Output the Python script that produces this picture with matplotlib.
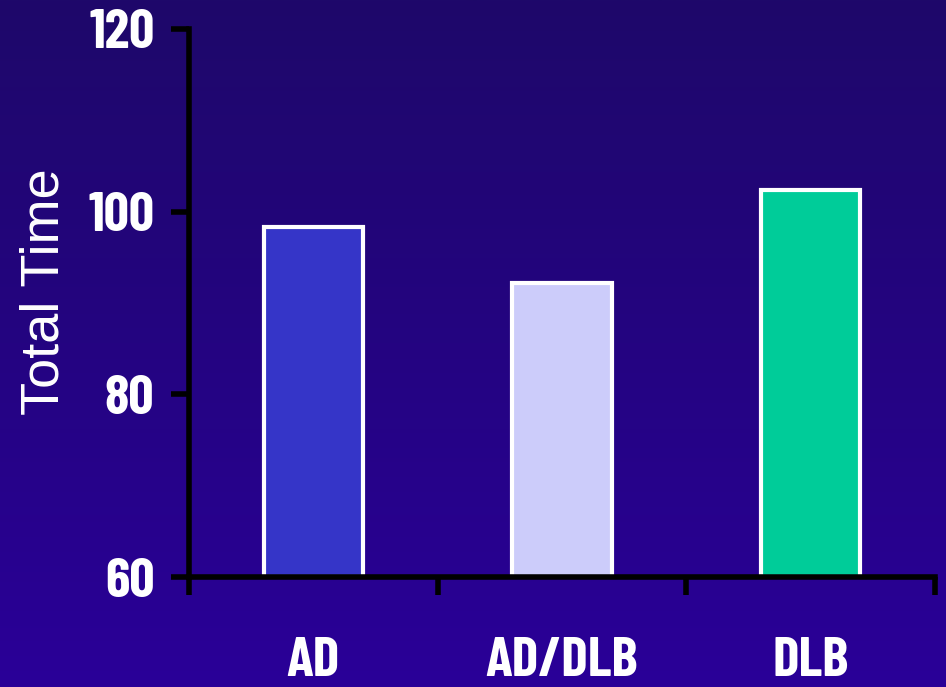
import numpy as np
import matplotlib.pyplot as plt
from matplotlib.colors import LinearSegmentedColormap

# data
groups = ['AD', 'AD/DLB', 'DLB']
total_time = [98.3, 92.2, 102.4]
bar_colors = ['#3535c8', '#ccccfa', '#00cc99']
y_ticks = [60, 80, 100, 120]

narrow = ['Barlow Condensed', 'Liberation Sans', 'DejaVu Sans']

fig = plt.figure(figsize=(9.46, 6.87), dpi=100)

# background gradient, dark at top, brighter blue-purple at bottom
bg = fig.add_axes([0, 0, 1, 1], zorder=-10)
cmap = LinearSegmentedColormap.from_list('bg', ['#1e086a', '#2a0098'])
grad = np.linspace(0, 1, 256).reshape(-1, 1)
bg.imshow(grad, aspect='auto', cmap=cmap, extent=[0, 1, 0, 1], origin='upper')
bg.axis('off')

ax = fig.add_axes([0.1998, 0.160, 0.7886, 0.798])
ax.patch.set_visible(False)

x = np.arange(1, len(groups) + 1)
ax.bar(x, [v - 60 for v in total_time], bottom=60, width=0.4,
       color=bar_colors, edgecolor='white', linewidth=3, zorder=2)

ax.set_xlim(0.5, 3.5)
ax.set_ylim(60, 120)

for side in ['top', 'right']:
    ax.spines[side].set_visible(False)
for side in ['left', 'bottom']:
    ax.spines[side].set_linewidth(4)
    ax.spines[side].set_color('black')
    ax.spines[side].set_zorder(3)
    ax.spines[side].set_capstyle('projecting')

ax.set_yticks(y_ticks)
ax.set_yticklabels([str(t) for t in y_ticks], family=narrow,
                   fontweight='bold', fontsize=40, color='white')
ax.tick_params(axis='y', direction='out', length=13, width=4,
               color='black', pad=12)

# category boundaries as ticks, names centred under bars
ax.set_xticks([0.5, 1.5, 2.5, 3.5])
ax.set_xticklabels([])
ax.tick_params(axis='x', which='major', direction='out', length=13,
               width=4, color='black')
ax.set_xticks(x, minor=True)
ax.set_xticklabels(groups, minor=True, family=narrow, fontweight='bold',
                   fontsize=40, color='white')
ax.tick_params(axis='x', which='minor', length=0, pad=43)

ax.set_ylabel('Total Time', family=['Liberation Sans', 'DejaVu Sans'],
              fontsize=39, color='white')
ax.yaxis.set_label_coords(-0.16, 0.52)

fig.savefig('out.png', dpi=100)
